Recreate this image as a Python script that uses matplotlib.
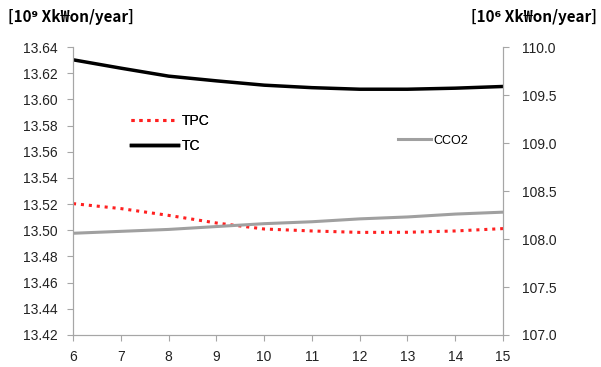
import matplotlib
matplotlib.use("Agg")
import matplotlib.pyplot as plt

# data
years = [6, 7, 8, 9, 10, 11, 12, 13, 14, 15]
tpc = [13.5204, 13.5166, 13.5114, 13.5056, 13.5010, 13.4995, 13.4984, 13.4985, 13.4995, 13.5013]
tc = [13.6303, 13.6239, 13.6178, 13.6142, 13.6109, 13.6090, 13.6078, 13.6078, 13.6086, 13.6099]
cco2 = [108.06, 108.08, 108.10, 108.13, 108.16, 108.18, 108.21, 108.23, 108.26, 108.28]

left_ticks = [13.42, 13.44, 13.46, 13.48, 13.50, 13.52, 13.54, 13.56, 13.58, 13.60, 13.62, 13.64]
right_ticks = [107.0, 107.5, 108.0, 108.5, 109.0, 109.5, 110.0]

plt.rcParams['font.family'] = ['Liberation Sans', 'DejaVu Sans']
grey = '#a6a6a6'

fig = plt.figure(figsize=(6.01, 3.67), dpi=100)
ax = fig.add_axes([0.1215, 0.0872, 0.7155, 0.7845])
ax2 = ax.twinx()

l1, = ax.plot(years, tpc, color='#ff2020', lw=2.2, linestyle=(0, (1, 1.6)), label='TPC')
l2, = ax.plot(years, tc, color='black', lw=2.5, label='TC')
l3, = ax2.plot(years, cco2, color='#a0a0a0', lw=2.2, label='CCO2')

ax.set_xlim(6, 15)
ax.set_ylim(13.42, 13.64)
ax2.set_ylim(107.0, 110.0)
ax.set_xticks(years)
ax.set_yticks(left_ticks)
ax.set_yticklabels(['%.2f' % v for v in left_ticks])
ax2.set_yticks(right_ticks)
ax2.set_yticklabels(['%.1f' % v for v in right_ticks])

for a in (ax, ax2):
    a.spines['top'].set_visible(False)
    for s in ('left', 'right', 'bottom'):
        a.spines[s].set_color(grey)
    a.tick_params(colors=grey, labelcolor='#222222', labelsize=10, length=4)
ax.tick_params(axis='x', pad=7)
ax.tick_params(axis='y', pad=7)
ax2.tick_params(axis='y', pad=10)

leg1 = ax.legend(handles=[l1, l2], loc='upper left', bbox_to_anchor=(0.105, 0.81),
                 frameon=False, fontsize=10, handlelength=3.4, handletextpad=0.3,
                 labelspacing=0.75)
ax.add_artist(leg1)
ax2.legend(handles=[l3], loc='upper left', bbox_to_anchor=(0.73, 0.735),
           frameon=False, fontsize=9, handlelength=2.6, handletextpad=0.2)

fig.text(0.013, 0.955, '[10⁹ Xk₩on/year]', fontsize=11, fontweight='bold',
         family=['Noto Sans CJK KR', 'DejaVu Sans'], va='center', ha='left')
fig.text(0.993, 0.955, '[10⁶ Xk₩on/year]', fontsize=11, fontweight='bold',
         family=['Noto Sans CJK KR', 'DejaVu Sans'], va='center', ha='right')

fig.savefig('out.png', dpi=100)
